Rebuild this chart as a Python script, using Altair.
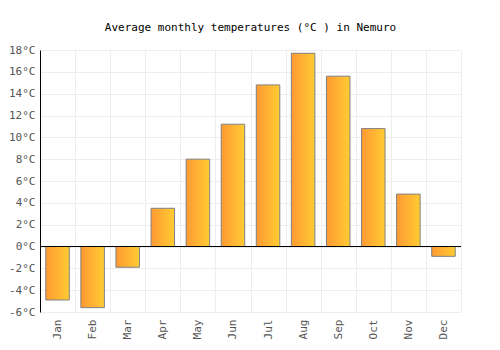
import altair as alt
import pandas as pd

months = ["Jan", "Feb", "Mar", "Apr", "May", "Jun", "Jul", "Aug", "Sep", "Oct", "Nov", "Dec"]
temps = [-4.9, -5.6, -1.9, 3.5, 8.0, 11.2, 14.8, 17.7, 15.6, 10.8, 4.8, -0.9]
y_ticks = [-6, -4, -2, 0, 2, 4, 6, 8, 10, 12, 14, 16, 18]

df = pd.DataFrame({"month": months, "temp": temps})
FONT = "DejaVu Sans Mono"

x_enc = alt.X(
    "month:N", sort=months, title=None,
    scale=alt.Scale(paddingInner=0, paddingOuter=0),
    axis=alt.Axis(labelAngle=-90, labelColor="#555555", labelFont=FONT, labelFontSize=11,
                  grid=True, gridColor="#eeeeee", tickBand="extent", ticks=False,
                  domain=False, labelPadding=7, labelBaseline="middle", labelAlign="right",
                  labelOverlap=False),
)
y_axis = alt.Axis(values=y_ticks, labelExpr="datum.value + '°C'", labelColor="#555555",
                  labelFont=FONT, labelFontSize=11, gridColor="#eeeeee", ticks=False,
                  domain=True, domainColor="#000000", labelPadding=5, labelOverlap=False,
                  labelBound=False, labelFlush=False, title=None)
y_scale = alt.Scale(domain=[-6, 18], nice=False)

bars = alt.Chart(df).mark_bar(
    width=alt.RelativeBandSize(0.67),
    color=alt.Gradient(
        gradient="linear", x1=0, x2=1, y1=0, y2=0,
        stops=[alt.GradientStop(color="#ff9933", offset=0), alt.GradientStop(color="#ffcc33", offset=1)],
    ),
    stroke="#808080", strokeWidth=1,
).encode(x=x_enc, y=alt.Y("temp:Q", title=None, scale=y_scale, axis=y_axis))

zero = alt.Chart(df).mark_rule(color="#000000", strokeWidth=1).encode(
    y=alt.Y(datum=0, type="quantitative", scale=y_scale, axis=y_axis)
)

chart = alt.layer(bars, zero).properties(
    width=421, height=262,
    title=alt.TitleParams("Average monthly temperatures (°C ) in Nemuro", font=FONT, fontSize=11,
                          fontWeight="normal", color="#000000", anchor="middle", offset=11),
    autosize=alt.AutoSizeParams(type="none"),
    padding={"left": 40, "top": 50, "right": 39, "bottom": 38},
).configure_view(stroke=None)

chart.save("out.html", embed_options={"renderer": "svg", "actions": False})
